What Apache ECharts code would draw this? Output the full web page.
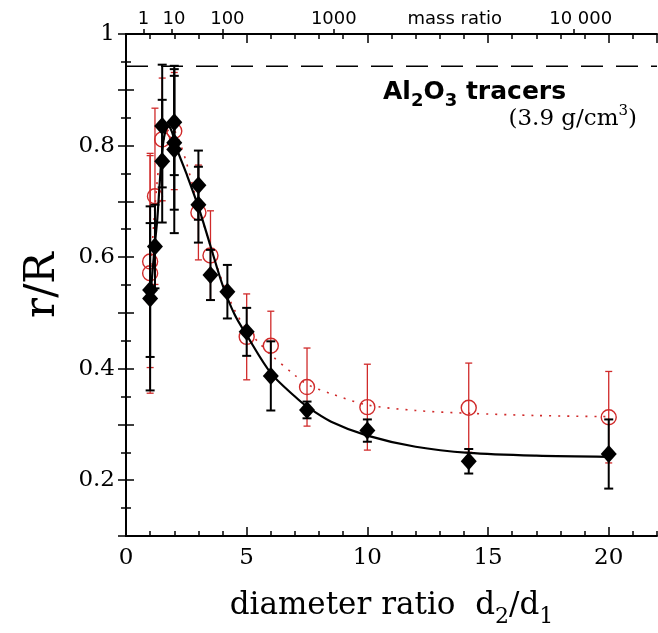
<!DOCTYPE html>
<html>
<head>
<meta charset="utf-8">
<script src="https://cdn.jsdelivr.net/npm/echarts@6/dist/echarts.min.js"></script>
<style>
html,body{margin:0;padding:0;background:#fff;}
#chart{width:658px;height:633px;}
</style>
</head>
<body>
<div id="chart"></div>
<script>
// ---- data ----
const blackX   = [1.0, 1.0, 1.2, 1.5, 1.5, 2.0, 2.0, 2.0, 3.0, 3.0, 3.5, 4.2, 5.0, 6.0, 7.5, 10.0, 14.2, 20.0];
const blackY   = [0.526, 0.541, 0.619, 0.772, 0.835, 0.842, 0.805, 0.793, 0.729, 0.694, 0.568, 0.538, 0.466, 0.387, 0.326, 0.289, 0.234, 0.247];
const blackErr = [0.165, 0.12, 0.075, 0.11, 0.11, 0.095, 0.12, 0.15, 0.062, 0.068, 0.045, 0.048, 0.043, 0.062, 0.015, 0.02, 0.022, 0.062];

const redX   = [1.0, 1.0, 1.2, 1.5, 2.0, 3.0, 3.5, 5.0, 6.0, 7.5, 10.0, 14.2, 20.0];
const redY   = [0.592, 0.571, 0.709, 0.811, 0.826, 0.68, 0.603, 0.457, 0.441, 0.367, 0.331, 0.330, 0.313];
const redErr = [0.19, 0.215, 0.158, 0.11, 0.105, 0.085, 0.08, 0.077, 0.062, 0.07, 0.077, 0.08, 0.082];

const fitBlackX = [1.0, 1.1, 1.2, 1.3, 1.4, 1.5, 1.6, 1.75, 1.9, 2.1, 2.5, 3.0, 3.5, 4.0, 4.5, 5.0, 6.0, 7.0, 7.5, 8.5, 10, 12, 14.2, 17, 20];
const fitBlackY = [0.525, 0.575, 0.625, 0.67, 0.735, 0.79, 0.82, 0.835, 0.825, 0.795, 0.75, 0.69, 0.62, 0.55, 0.497, 0.46, 0.392, 0.35, 0.332, 0.305, 0.28, 0.26, 0.249, 0.244, 0.242];

const fitRedX = [1.0, 1.1, 1.2, 1.35, 1.5, 1.7, 1.9, 2.1, 2.5, 3.0, 3.5, 4.0, 4.5, 5.0, 5.5, 6.0, 7.0, 7.5, 8.5, 10, 12, 14.2, 17, 20];
const fitRedY = [0.57, 0.63, 0.69, 0.76, 0.80, 0.825, 0.83, 0.82, 0.77, 0.69, 0.62, 0.555, 0.505, 0.47, 0.447, 0.425, 0.388, 0.372, 0.355, 0.335, 0.325, 0.32, 0.316, 0.314];

const refLineX = [0, 22];
const refLineY = [0.942, 0.942];

const yLabelValues = [0.2, 0.4, 0.6, 0.8, 1];
const yLabelTexts  = ['0.2', '0.4', '0.6', '0.8', '1'];

const massTickPos    = [0.72, 1.9, 4.02, 8.59, 18.55];
const massLabelPos   = [0.72, 1.99, 4.2, 8.61, 13.62, 18.84];
const massLabelTexts = ['1', '10', '100', '1000', 'mass ratio', '10 000'];

// ---- chart ----
const RED = '#d02a2a';
const chart = echarts.init(document.getElementById('chart'));

function zip(xs, ys) { return xs.map((x, i) => [x, ys[i]]); }

function errSeries(xs, ys, es, color, width, cap, z) {
  return {
    type: 'custom',
    xAxisIndex: 0, yAxisIndex: 0,
    z: z,
    silent: true,
    data: xs.map((x, i) => [x, ys[i] - es[i], ys[i] + es[i]]),
    encode: { x: 0, y: [1, 2] },
    renderItem: function (params, api) {
      const lo = api.coord([api.value(0), api.value(1)]);
      const hi = api.coord([api.value(0), api.value(2)]);
      const st = { stroke: color, lineWidth: width };
      return {
        type: 'group',
        children: [
          { type: 'line', shape: { x1: lo[0], y1: lo[1], x2: hi[0], y2: hi[1] }, style: st },
          { type: 'line', shape: { x1: lo[0] - cap, y1: lo[1], x2: lo[0] + cap, y2: lo[1] }, style: st },
          { type: 'line', shape: { x1: hi[0] - cap, y1: hi[1], x2: hi[0] + cap, y2: hi[1] }, style: st }
        ]
      };
    }
  };
}

const serifFont = 'DejaVu Serif';
const sansFont = 'DejaVu Sans';

const option = {
  animation: false,
  backgroundColor: '#fff',
  grid: { left: 126, right: 1, top: 34, bottom: 96, containLabel: false },
  xAxis: [
    { // bottom, major ticks + labels
      type: 'value', position: 'bottom', min: 0, max: 22, interval: 5,
      axisLine: { show: true, lineStyle: { color: '#000', width: 2 } },
      axisTick: { show: true, inside: true, length: 9, lineStyle: { color: '#000', width: 1.5 } },
      axisLabel: { show: true, showMaxLabel: false, margin: 11, color: '#000', fontFamily: serifFont, fontSize: 23 },
      splitLine: { show: false },
      name: '{t|diameter ratio  d}{s|2}{t|/d}{s|1}',
      nameLocation: 'middle', nameGap: 54,
      nameTextStyle: {
        rich: {
          t: { fontFamily: serifFont, fontSize: 31, color: '#000', verticalAlign: 'top', lineHeight: 35 },
          s: { fontFamily: serifFont, fontSize: 22, color: '#000', verticalAlign: 'top', lineHeight: 23, padding: [16, 0, 0, 0] }
        }
      }
    },
    { // bottom, minor ticks
      type: 'value', position: 'bottom', min: 0, max: 22, interval: 1,
      axisLine: { show: false },
      axisTick: { show: true, inside: true, length: 5, lineStyle: { color: '#000', width: 1.5 } },
      axisLabel: { show: false }, splitLine: { show: false }
    },
    { // top mirror, major ticks
      type: 'value', position: 'top', min: 0, max: 22, interval: 5,
      axisLine: { show: true, lineStyle: { color: '#000', width: 2 } },
      axisTick: { show: true, inside: true, length: 9, lineStyle: { color: '#000', width: 1.5 } },
      axisLabel: { show: false }, splitLine: { show: false }
    },
    { // top mirror, minor ticks
      type: 'value', position: 'top', min: 0, max: 22, interval: 1,
      axisLine: { show: false },
      axisTick: { show: true, inside: true, length: 5, lineStyle: { color: '#000', width: 1.5 } },
      axisLabel: { show: false }, splitLine: { show: false }
    },
    { // top mass-ratio axis
      type: 'value', position: 'top', min: 0, max: 22,
      axisLine: { show: false },
      axisTick: { show: true, inside: false, length: 5, customValues: massTickPos, lineStyle: { color: '#000', width: 1.5 } },
      axisLabel: {
        show: true, margin: 6, customValues: massLabelPos, color: '#000', fontFamily: sansFont, fontSize: 18,
        formatter: function (v) {
          for (let i = 0; i < massLabelPos.length; i++) if (Math.abs(massLabelPos[i] - v) < 1e-6) return massLabelTexts[i];
          return '';
        }
      },
      splitLine: { show: false }
    }
  ],
  yAxis: [
    {
      type: 'value', position: 'left', min: 0.1, max: 1, interval: 0.1,
      axisLine: { show: true, lineStyle: { color: '#000', width: 2 } },
      axisTick: { show: true, inside: true, length: 8, lineStyle: { color: '#000', width: 1.5 } },
      minorTick: { show: true, splitNumber: 2, length: 5, lineStyle: { color: '#000', width: 1.5 } },
      axisLabel: {
        show: true, margin: 11, color: '#000', fontFamily: serifFont, fontSize: 23,
        formatter: function (v) {
          for (let i = 0; i < yLabelValues.length; i++) if (Math.abs(yLabelValues[i] - v) < 1e-6) return yLabelTexts[i];
          return '';
        }
      },
      splitLine: { show: false },
      name: 'r/R', nameLocation: 'middle', nameGap: 62, nameRotate: 90,
      nameTextStyle: { fontFamily: serifFont, fontSize: 42, color: '#000' }
    },
    {
      type: 'value', position: 'right', min: 0.1, max: 1, interval: 0.1,
      axisLine: { show: true, lineStyle: { color: '#000', width: 2 } },
      axisTick: { show: true, inside: true, length: 8, lineStyle: { color: '#000', width: 1.5 } },
      minorTick: { show: true, splitNumber: 2, length: 5, lineStyle: { color: '#000', width: 1.5 } },
      axisLabel: { show: false }, splitLine: { show: false }
    }
  ],
  series: [
    {
      type: 'line', xAxisIndex: 0, yAxisIndex: 0, data: zip(refLineX, refLineY),
      showSymbol: false, silent: true, z: 1,
      lineStyle: { color: '#000', width: 1.5, type: [22, 13] }
    },
    errSeries(redX, redY, redErr, RED, 1.3, 3.5, 2),
    {
      type: 'line', xAxisIndex: 0, yAxisIndex: 0, data: zip(fitRedX, fitRedY),
      showSymbol: false, smooth: 0.3, silent: true, z: 3,
      lineStyle: { color: RED, width: 1.6, type: [2, 7] }
    },
    {
      type: 'scatter', xAxisIndex: 0, yAxisIndex: 0, data: zip(redX, redY),
      symbol: 'circle', symbolSize: 15, z: 4, silent: true,
      itemStyle: { color: 'rgba(255,255,255,0)', borderColor: RED, borderWidth: 1.4, opacity: 1 }
    },
    errSeries(blackX, blackY, blackErr, '#000', 2, 4.5, 5),
    {
      type: 'line', xAxisIndex: 0, yAxisIndex: 0, data: zip(fitBlackX, fitBlackY),
      showSymbol: false, smooth: 0.3, silent: true, z: 6,
      lineStyle: { color: '#000', width: 2.2 }
    },
    {
      type: 'scatter', xAxisIndex: 0, yAxisIndex: 0, data: zip(blackX, blackY),
      symbol: 'diamond', symbolSize: [16, 18], z: 7, silent: true,
      itemStyle: { color: '#000', opacity: 1 }
    }
  ],
  graphic: [
    {
      type: 'text', left: 383, top: 80, z: 100,
      style: {
        text: '{a|Al}{s|2}{a|O}{s|3}{a| tracers}',
        rich: {
          a: { fontFamily: sansFont, fontWeight: 'bold', fontSize: 25, fill: '#000', verticalAlign: 'top', lineHeight: 28 },
          s: { fontFamily: sansFont, fontWeight: 'bold', fontSize: 18, fill: '#000', verticalAlign: 'top', lineHeight: 20, padding: [12, 0, 0, 0] }
        }
      }
    },
    {
      type: 'text', right: 21, top: 104, z: 100,
      style: {
        text: '{a|(3.9 g/cm}{p|3}{a|)}',
        rich: {
          a: { fontFamily: serifFont, fontSize: 23, fill: '#000', verticalAlign: 'top', lineHeight: 27, padding: [4, 0, 0, 0] },
          p: { fontFamily: serifFont, fontSize: 15, fill: '#000', verticalAlign: 'top', lineHeight: 17 }
        }
      }
    }
  ]
};
chart.setOption(option);
</script>
</body>
</html>
